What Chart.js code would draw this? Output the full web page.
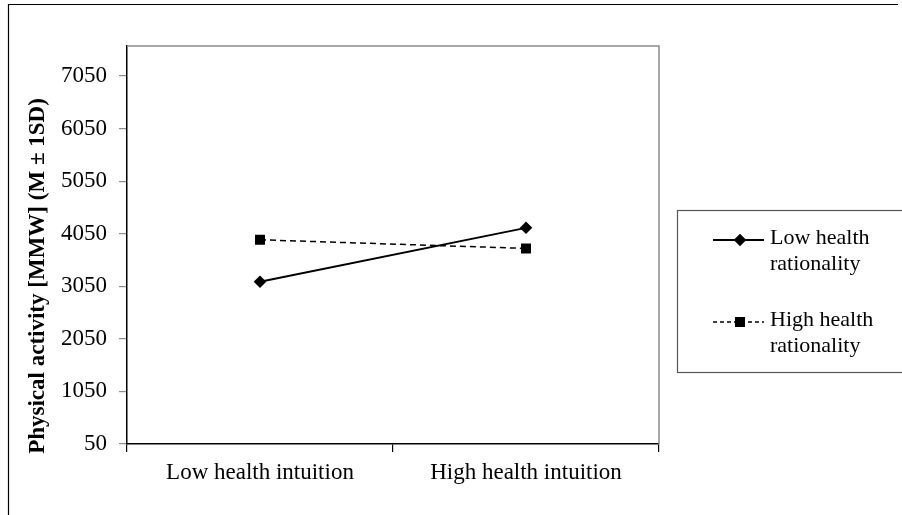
<!DOCTYPE html>
<html>
<head>
<meta charset="utf-8">
<script src="https://cdn.jsdelivr.net/npm/chart.js@4/dist/chart.umd.min.js"></script>
<style>
  html, body { margin: 0; padding: 0; background: #fff; }
  #wrap { width: 902px; height: 515px; position: relative; }
</style>
</head>
<body>
<div id="wrap"><canvas id="c" width="902" height="515"></canvas></div>
<script>
// Interaction of health intuition and health rationality on physical activity
const categories = ['Low health intuition', 'High health intuition'];
const seriesNames = ['Low health rationality', 'High health rationality'];
const lowRationality = [3136, 4162];
const highRationality = [3934, 3770];
const yTicks = [50, 1050, 2050, 3050, 4050, 5050, 6050, 7050];
const yTitle = 'Physical activity [MMW] (M \u00B1 1SD)';

const FONT = '"Liberation Serif", "Times New Roman", serif';

// Frame lines, plot border, axis title and boxed legend
const decorations = {
  id: 'decorations',
  afterDraw(chart) {
    const ctx = chart.ctx;
    const a = chart.chartArea;
    ctx.save();

    // outer frame (top and left edges)
    ctx.strokeStyle = '#000';
    ctx.lineWidth = 1.2;
    ctx.beginPath();
    ctx.moveTo(8.5, 515);
    ctx.lineTo(8.5, 4.5);
    ctx.lineTo(898, 4.5);
    ctx.stroke();

    // plot area top and right edges
    ctx.strokeStyle = '#8c8c8c';
    ctx.lineWidth = 1.5;
    ctx.beginPath();
    ctx.moveTo(a.left, a.top);
    ctx.lineTo(a.right, a.top);
    ctx.lineTo(a.right, a.bottom);
    ctx.stroke();

    // rotated y-axis title
    ctx.fillStyle = '#000';
    ctx.font = 'bold 23px ' + FONT;
    ctx.textAlign = 'center';
    ctx.textBaseline = 'middle';
    ctx.translate(38, 276);
    ctx.rotate(-Math.PI / 2);
    ctx.fillText(yTitle, 0, 0);
    ctx.setTransform(1, 0, 0, 1, 0, 0);

    // legend box
    const bx = 677.5, by = 210.5, bw = 240, bh = 162;
    ctx.strokeStyle = '#555';
    ctx.lineWidth = 1.2;
    ctx.strokeRect(bx, by, bw, bh);

    ctx.font = '22px ' + FONT;
    ctx.textAlign = 'left';
    ctx.textBaseline = 'middle';
    const entryY = [238, 320];
    chart.data.datasets.forEach((ds, i) => {
      const y0 = entryY[i];
      const ly = y0 + 2;
      ctx.strokeStyle = ds.borderColor;
      ctx.lineWidth = ds.borderWidth;
      ctx.setLineDash(ds.borderDash ? [4, 3] : []);
      ctx.beginPath();
      ctx.moveTo(713, ly);
      ctx.lineTo(764, ly);
      ctx.stroke();
      ctx.setLineDash([]);
      Chart.helpers.drawPoint(ctx, {
        pointStyle: ds.pointStyle,
        radius: ds.pointRadius,
        rotation: 0,
        borderWidth: 1
      }, 740, ly);
      ctx.fillStyle = ds.pointBackgroundColor;
      ctx.fill();
      // wrap label into lines
      const words = ds.label.split(' ');
      const lines = [];
      let cur = '';
      words.forEach(w => {
        const t = cur ? cur + ' ' + w : w;
        if (ctx.measureText(t).width > 125 && cur) { lines.push(cur); cur = w; }
        else cur = t;
      });
      if (cur) lines.push(cur);
      ctx.fillStyle = '#000';
      lines.forEach((ln, k) => ctx.fillText(ln, 770, y0 + k * 26));
    });
    ctx.restore();
  }
};

new Chart(document.getElementById('c'), {
  type: 'line',
  data: {
    labels: categories,
    datasets: [
      {
        label: seriesNames[0],
        data: lowRationality,
        borderColor: '#000',
        borderWidth: 1.8,
        pointStyle: 'rectRot',
        pointRadius: 5,
        pointHoverRadius: 5,
        pointBackgroundColor: '#000',
        pointBorderColor: '#000',
        tension: 0
      },
      {
        label: seriesNames[1],
        data: highRationality,
        borderColor: '#000',
        borderWidth: 1.5,
        borderDash: [6, 4],
        pointStyle: 'rect',
        pointRadius: 6,
        pointHoverRadius: 6,
        pointBackgroundColor: '#000',
        pointBorderColor: '#000',
        tension: 0
      }
    ]
  },
  options: {
    responsive: false,
    animation: false,
    events: [],
    layout: { padding: { left: 0, top: 46, right: 243, bottom: 0 } },
    plugins: {
      legend: { display: false },
      tooltip: { enabled: false },
      title: { display: false }
    },
    scales: {
      x: {
        type: 'category',
        offset: true,
        grid: {
          offset: true,
          drawOnChartArea: false,
          drawTicks: true,
          tickLength: 8,
          color: '#000',
          lineWidth: 1.2
        },
        border: { display: true, color: '#000', width: 1.5 },
        ticks: {
          color: '#000',
          padding: 7,
          maxRotation: 0,
          font: { family: FONT, size: 23 }
        },
        afterFit(scale) { scale.height = 71; }
      },
      y: {
        type: 'linear',
        min: 50,
        max: 7620,
        afterBuildTicks(scale) {
          scale.ticks = yTicks.map(v => ({ value: v }));
        },
        grid: {
          drawOnChartArea: false,
          drawTicks: true,
          tickLength: 8,
          color: '#8c8c8c',
          lineWidth: 1.2
        },
        border: { display: true, color: '#000', width: 1.5 },
        ticks: {
          color: '#000',
          padding: 12,
          font: { family: FONT, size: 23 },
          callback: v => String(v)
        },
        afterFit(scale) { scale.width = 127; }
      }
    }
  },
  plugins: [decorations]
});
</script>
</body>
</html>
